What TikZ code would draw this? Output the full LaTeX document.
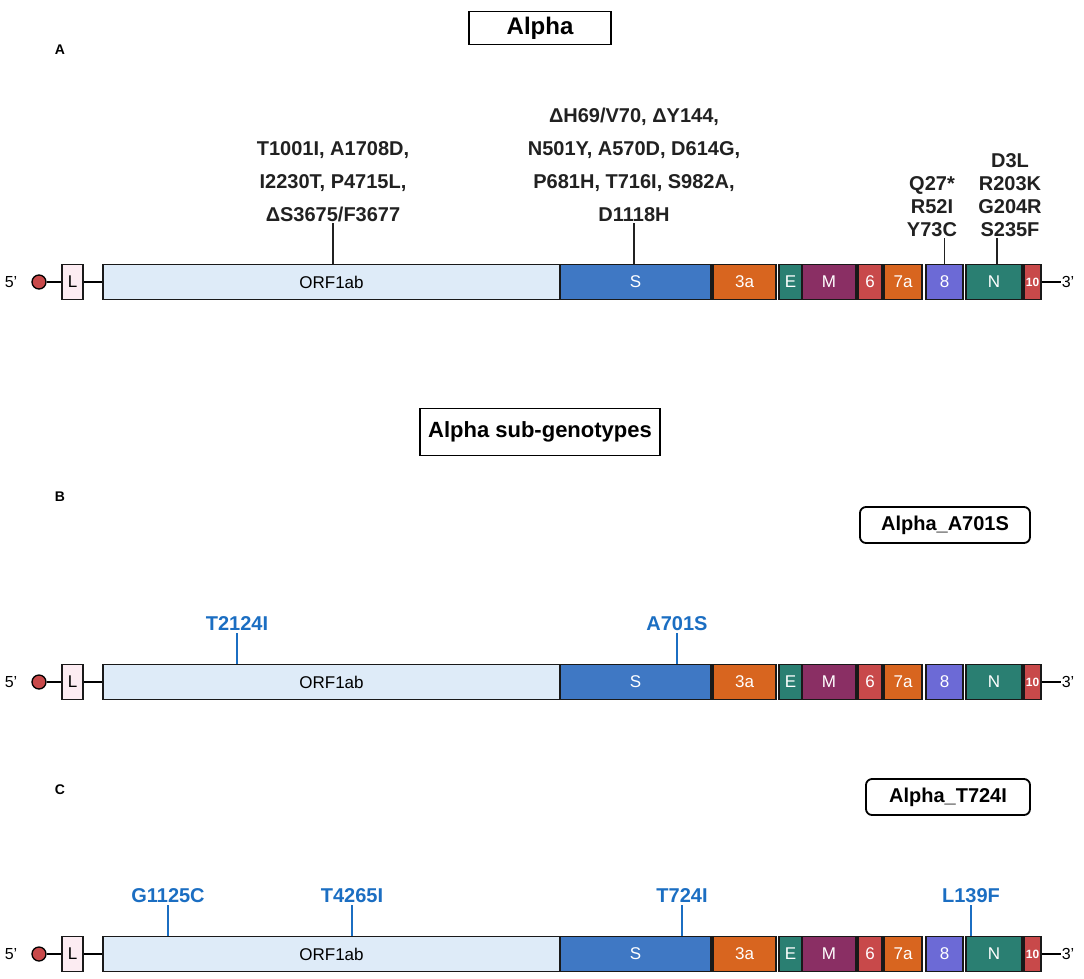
\documentclass[tikz,border=0pt]{standalone}
\usepackage{fontspec}
\setmainfont{Liberation Sans}
\usetikzlibrary{positioning}
\definecolor{capred}{RGB}{200,73,74}
\definecolor{lpink}{RGB}{252,236,242}
\definecolor{orfblue}{RGB}{222,235,248}
\definecolor{sblue}{RGB}{63,120,196}
\definecolor{orfora}{RGB}{216,101,31}
\definecolor{eteal}{RGB}{42,127,114}
\definecolor{mplum}{RGB}{138,47,100}
\definecolor{lav}{RGB}{108,106,214}
\definecolor{mutblue}{RGB}{27,110,194}

\begin{document}
\begin{tikzpicture}[x=1pt,y=-1pt,
  gene/.style={draw=black!90,line width=1.6pt,inner sep=0pt,minimum height=35pt,text=white,font=\fontsize{17}{17}\selectfont},
  std/.style={},
  darklbl/.style={text=black},
  tinylbl/.style={font=\bfseries\fontsize{12}{12}\selectfont},
  prime/.style={font=\fontsize{16}{16}\selectfont,inner sep=1pt},
  title/.style={draw,line width=1.5pt,font=\bfseries\fontsize{24}{24}\selectfont,minimum width=142pt,minimum height=33pt},
  subtitle/.style={draw,line width=1.8pt,rounded corners=6pt,font=\bfseries\fontsize{20}{20}\selectfont,minimum width=170pt,minimum height=36pt},
  mut/.style={font=\bfseries\fontsize{20}{33}\selectfont,align=center,text=black!87,anchor=south,inner sep=1pt},
  mutsm/.style={font=\bfseries\fontsize{20}{23}\selectfont,align=center,text=black!87,anchor=south,inner sep=1pt},
  mutb/.style={font=\bfseries\fontsize{20}{20}\selectfont,text=mutblue,anchor=south,inner sep=2pt},
  mutline/.style={draw=black!87,line width=1.3pt},
  blueline/.style={draw=mutblue,line width=1.8pt},
  panel/.style={font=\bfseries\fontsize{14}{14}\selectfont}]
\useasboundingbox (0,0) rectangle (1084,978);

% headings
\node[title] (alpha) at (540,28) {Alpha};
\node[title,font=\bfseries\fontsize{22}{22}\selectfont,minimum width=240pt,minimum height=47pt,line width=1.8pt] (subg) at (540,432) {Alpha sub-genotypes};
\node[subtitle] (tagb) at (945,525) {Alpha\_A701S};
\node[subtitle,minimum width=164pt] (tagc) at (948,797) {Alpha\_T724I};
\node[panel] (pa) at (60,50) {A};
\node[panel] (pb) at (60,497) {B};
\node[panel] (pc) at (60,790) {C};

% the three genomes
\foreach \row/\y in {a/282,b/682,c/954}{
  \node[prime] (\row5p) at (11,\y) {5'};
  \node[circle,draw,fill=capred,line width=1.3pt,minimum size=14pt,inner sep=0pt] (\row cap) at (39,\y) {};
  \node[gene,fill=lpink,text=black,minimum width=21pt] (\row L) at (72.5,\y) {L};
  \foreach \gn/\lbl/\xa/\xb/\col/\opt in {orf/ORF1ab/103/560/orfblue/darklbl,
      s/S/560/711/sblue/std, 3a/3a/713/776/orfora/std, e/E/779/802/eteal/std,
      m/M/802/856/mplum/std, 6/6/858/882/capred/std, 7a/7a/884/922/orfora/std,
      8/8/926/963/lav/std, n/N/966/1022/eteal/std, 10/10/1024/1041/capred/tinylbl}{
    \pgfmathsetmacro\w{\xb-\xa}
    \pgfmathsetmacro\xm{(\xa+\xb)/2}
    \node[gene,fill=\col,\opt,minimum width=\w pt] (\row\gn) at (\xm,\y) {\lbl};
  }
  \node[prime] (\row3p) at (1068,\y) {3'};
  \draw[line width=1.5pt] (\row cap) -- (\row L) -- (\row orf);
  \draw[line width=1.5pt] (\row10) -- (\row3p);
}

% A: Alpha
\node[mut] (amorf) at (333,223) {T1001I, A1708D,\\I2230T, P4715L,\\ΔS3675/F3677};
\node[mut] (ams) at (634,223) {ΔH69/V70, ΔY144,\\N501Y, A570D, D614G,\\P681H, T716I, S982A,\\D1118H};
\node[mutsm] (am8) at (932,238) {Q27*\\R52I\\Y73C};
\node[mutsm] (amn) at (1010,238) {D3L\\R203K\\G204R\\S235F};
\path[mutline] (amorf) -- (amorf |- aorf.north)
  (ams) -- (ams |- as.north)
  (a8.north |- am8.south) -- (a8.north)
  ([xshift=3pt]an.north |- amn.south) -- ([xshift=3pt]an.north);

% B: Alpha_A701S
\node[mutb] (bm1) at (237,633) {T2124I};
\node[mutb] (bm2) at (677,633) {A701S};
\path[blueline] (bm1) -- (bm1 |- borf.north)
  (bm2) -- (bm2 |- bs.north);

% C: Alpha_T724I
\node[mutb] (cm1) at (168,905) {G1125C};
\node[mutb] (cm2) at (352,905) {T4265I};
\node[mutb] (cm3) at (682,905) {T724I};
\node[mutb] (cm4) at (971,905) {L139F};
\path[blueline] (cm1) -- (cm1 |- corf.north)
  (cm2) -- (cm2 |- corf.north)
  (cm3) -- (cm3 |- cs.north)
  (cm4) -- (cm4 |- cn.north);
\end{tikzpicture}
\end{document}
